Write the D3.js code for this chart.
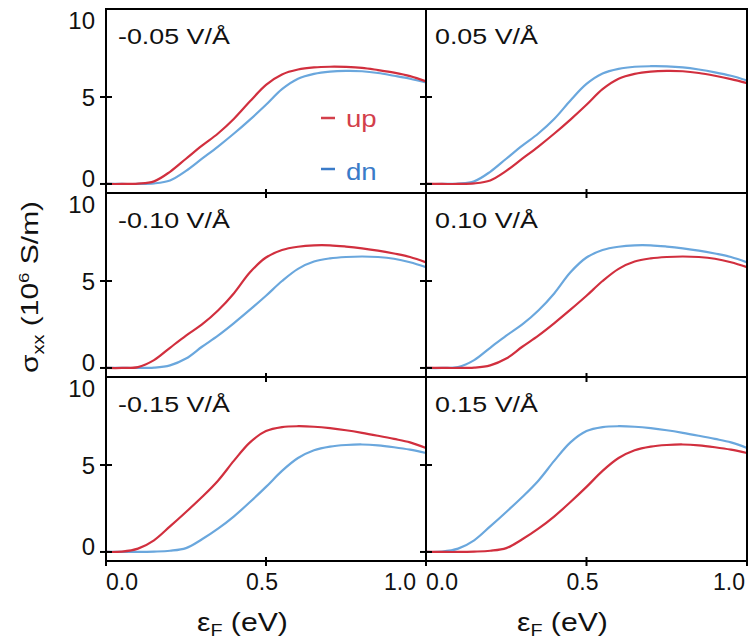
<!DOCTYPE html>
<html>
<head>
<meta charset="utf-8">
<script src="https://cdn.jsdelivr.net/npm/d3@7/dist/d3.min.js"></script>
<style>
    body { margin: 0; background: #fff; }
    svg text { font-family: Arial, "Liberation Sans", Helvetica, sans-serif; fill: #111; }
    .frame { fill: none; stroke: #000; stroke-width: 2; }
    .tick-line { stroke: #000; stroke-width: 2; }
    .curve { fill: none; stroke-width: 2.2; }
</style>
</head>
<body>
<svg id="chart" width="750" height="644"></svg>
<script>
(function () {
    // Fermi energy grid (eV)
    const eF = [0, 0.05, 0.10, 0.15, 0.20, 0.25, 0.30, 0.35, 0.40, 0.45, 0.50,
                0.55, 0.60, 0.65, 0.70, 0.75, 0.80, 0.85, 0.90, 0.95, 1.00];

    // sigma_xx (10^6 S/m), spin up / spin down, per field
    const upM005 = [0, 0, 0.02, 0.15, 0.7, 1.45, 2.2, 2.9, 3.75, 4.75, 5.7, 6.3, 6.58, 6.7, 6.74, 6.73, 6.68, 6.55, 6.4, 6.2, 5.9];
    const dnM005 = [0, 0, 0, 0.03, 0.2, 0.75, 1.45, 2.15, 2.9, 3.7, 4.55, 5.45, 6.05, 6.33, 6.46, 6.5, 6.48, 6.38, 6.22, 6.05, 5.84];
    const upP005 = [0, 0, 0, 0.03, 0.2, 0.75, 1.45, 2.15, 2.9, 3.7, 4.55, 5.45, 6.05, 6.33, 6.46, 6.5, 6.48, 6.38, 6.22, 6.03, 5.8];
    const dnP005 = [0, 0, 0.02, 0.15, 0.7, 1.45, 2.2, 2.9, 3.75, 4.8, 5.75, 6.35, 6.62, 6.74, 6.77, 6.76, 6.7, 6.58, 6.42, 6.22, 5.95];

    const upM010 = [0, 0, 0.05, 0.45, 1.16, 1.86, 2.5, 3.3, 4.3, 5.5, 6.35, 6.78, 6.97, 7.05, 7.05, 6.98, 6.88, 6.75, 6.58, 6.38, 6.07];
    const dnM010 = [0, 0, 0, 0.02, 0.15, 0.54, 1.22, 1.86, 2.58, 3.35, 4.15, 5.0, 5.7, 6.12, 6.3, 6.38, 6.41, 6.38, 6.28, 6.08, 5.8];
    const upP010 = [0, 0, 0, 0.02, 0.15, 0.54, 1.22, 1.86, 2.58, 3.35, 4.15, 5.0, 5.7, 6.12, 6.3, 6.38, 6.41, 6.38, 6.28, 6.08, 5.8];
    const dnP010 = [0, 0, 0.05, 0.45, 1.16, 1.86, 2.5, 3.3, 4.3, 5.5, 6.35, 6.78, 6.97, 7.05, 7.05, 6.98, 6.88, 6.75, 6.58, 6.38, 6.07];

    const upM015 = [0, 0.02, 0.19, 0.67, 1.47, 2.3, 3.16, 4.1, 5.25, 6.3, 6.95, 7.18, 7.23, 7.2, 7.12, 7.0, 6.85, 6.68, 6.5, 6.3, 5.98];
    const dnM015 = [0, 0, 0, 0.02, 0.07, 0.22, 0.73, 1.34, 2.05, 2.87, 3.74, 4.66, 5.4, 5.85, 6.06, 6.15, 6.18, 6.13, 6.02, 5.88, 5.69];
    const upP015 = [0, 0, 0, 0.02, 0.07, 0.22, 0.73, 1.34, 2.05, 2.87, 3.74, 4.66, 5.4, 5.85, 6.06, 6.15, 6.18, 6.13, 6.02, 5.88, 5.69];
    const dnP015 = [0, 0.02, 0.19, 0.67, 1.47, 2.3, 3.16, 4.1, 5.25, 6.3, 6.95, 7.18, 7.23, 7.2, 7.12, 7.0, 6.85, 6.68, 6.5, 6.3, 5.98];

    const fieldLabels = ["-0.05 V/Å", "0.05 V/Å", "-0.10 V/Å", "0.10 V/Å", "-0.15 V/Å", "0.15 V/Å"];
    const yTicks = [0, 5, 10];
    const xTicks = [0, 0.5, 1.0];
    const xTickLabels = ["0.0", "0.5", "1.0"];
    const legendLabels = ["up", "dn"];

    const panels = [
        { label: fieldLabels[0], up: upM005, dn: dnM005 },
        { label: fieldLabels[1], up: upP005, dn: dnP005 },
        { label: fieldLabels[2], up: upM010, dn: dnM010 },
        { label: fieldLabels[3], up: upP010, dn: dnP010 },
        { label: fieldLabels[4], up: upM015, dn: dnM015 },
        { label: fieldLabels[5], up: upP015, dn: dnP015 }
    ];

    const colUp = "#d12f3e";
    const colDn = "#6aa7dd";

    const colX = [106, 426];
    const colW = [320, 321];
    const rowY = [9, 193, 377];
    const rowH = 184;

    const svg = d3.select("#chart");

    panels.forEach((p, i) => {
        const col = i % 2;
        const row = Math.floor(i / 2);
        const x0 = colX[col], y0 = rowY[row];

        const x = d3.scaleLinear().domain([0, 1]).range([x0, x0 + colW[col]]);
        const y = d3.scaleLinear().domain([-0.52, 10.06]).range([y0 + rowH, y0]);

        const g = svg.append("g");

        const line = d3.line()
            .x((d, k) => x(eF[k]))
            .y(d => y(d))
            .curve(d3.curveCatmullRom.alpha(0.5));

        // dn first, up on top
        g.append("path").attr("class", "curve").attr("stroke", colDn).attr("d", line(p.dn));
        g.append("path").attr("class", "curve").attr("stroke", colUp).attr("d", line(p.up));

        g.append("rect")
            .attr("class", "frame")
            .attr("x", x0).attr("y", y0)
            .attr("width", colW[col]).attr("height", rowH);

        // y ticks crossing the left frame
        g.selectAll(".ytick")
            .data(yTicks.filter(v => v < 10))
            .enter().append("line")
            .attr("class", "tick-line")
            .attr("x1", x0 - 6).attr("x2", x0 + 6)
            .attr("y1", d => y(d)).attr("y2", d => y(d));

        // x ticks crossing the bottom frame
        g.selectAll(".xtick")
            .data(xTicks)
            .enter().append("line")
            .attr("class", "tick-line")
            .attr("x1", d => x(d)).attr("x2", d => x(d))
            .attr("y1", y0 + rowH - 4).attr("y2", y0 + rowH + 5);

        if (col === 0) {
            const yOff = { 0: -5.5, 5: 0.5, 10: 11 };
            g.selectAll(".ylab")
                .data(yTicks)
                .enter().append("text")
                .attr("x", x0 - 11)
                .attr("y", d => y(d) + yOff[d])
                .attr("dy", "0.35em")
                .attr("text-anchor", "end")
                .style("font-size", "24px")
                .text(d => d);
        }

        if (row === 2) {
            const anchors = ["start", "middle", "end"];
            const shifts = [0, -4, col === 0 ? -10 : -2];
            g.selectAll(".xlab")
                .data(xTicks)
                .enter().append("text")
                .attr("x", (d, k) => x(d) + shifts[k])
                .attr("y", y0 + rowH + 29)
                .attr("text-anchor", (d, k) => anchors[k])
                .style("font-size", "23px")
                .text((d, k) => xTickLabels[k]);

            const xt = g.append("text")
                .attr("transform", `translate(${x0 + 91},631) scale(1.16,1)`)
                .style("font-size", "26px");
            xt.append("tspan").text("ε");
            xt.append("tspan").attr("dy", 5).style("font-size", "17px").text("F");
            xt.append("tspan").attr("dy", -5).text(" (eV)");
        }

        g.append("text")
            .attr("transform", `translate(${x0 + (col === 0 ? 12 : 9)},${y0 + 35}) scale(1.22,1)`)
            .style("font-size", "22px")
            .text(p.label);
    });

    // legend in the first panel
    const legendText = ["#d33f4b", "#3a7bc8"];
    const legendY = [118, 169];
    legendLabels.forEach((name, k) => {
        svg.append("line")
            .attr("x1", 321).attr("x2", 335)
            .attr("y1", legendY[k]).attr("y2", legendY[k])
            .attr("stroke", legendText[k])
            .attr("stroke-width", 2.5);
        svg.append("text")
            .attr("transform", `translate(346,${legendY[k] + (k === 0 ? 9 : 11)}) scale(1.2,1)`)
            .style("fill", legendText[k])
            .style("font-size", "23px")
            .text(name);
    });

    // y axis title
    const yt = svg.append("text")
        .attr("transform", "translate(38,287) rotate(-90) scale(1.25,1)")
        .attr("text-anchor", "middle")
        .style("font-size", "24px");
    yt.append("tspan").text("σ");
    yt.append("tspan").attr("dy", 6).style("font-size", "16px").text("xx");
    yt.append("tspan").attr("dy", -6).text(" (10");
    yt.append("tspan").attr("dy", -9).style("font-size", "15px").text("6");
    yt.append("tspan").attr("dy", 9).text(" S/m)");
})();
</script>
</body>
</html>
